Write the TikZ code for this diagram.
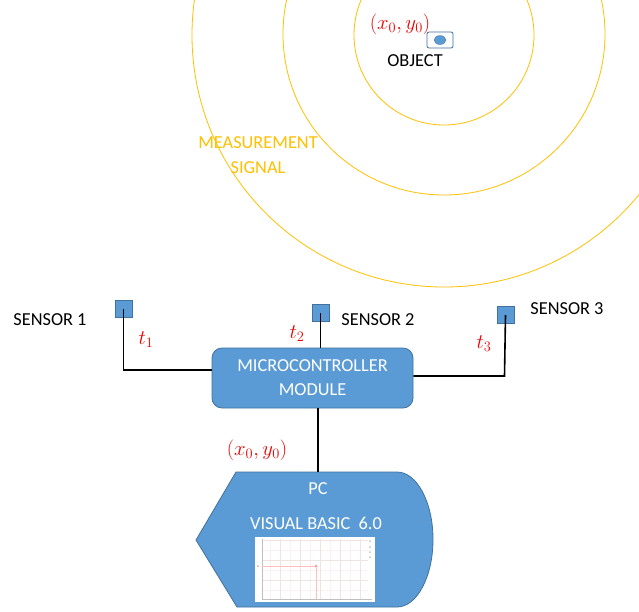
\documentclass[tikz,border=0pt]{standalone}
\usepackage{fontspec}
\setmainfont{Carlito}
\definecolor{boxblue}{HTML}{5B9BD5}
\definecolor{boxedge}{HTML}{41719C}
\definecolor{gold}{HTML}{FFC000}
\definecolor{mathred}{HTML}{F00000}
\definecolor{gridc}{HTML}{FAF2F2}
\definecolor{gridmaj}{HTML}{EEE4E4}
\begin{document}
\begin{tikzpicture}[x=1pt,y=-1pt,
  lbl/.style={font=\fontsize{18.3}{21}\selectfont, text=black, inner sep=0pt},
  redlbl/.style={font=\fontsize{22}{24}\selectfont, text=mathred, inner sep=0pt},
  sensorbox/.style={draw=boxedge, fill=boxblue, line width=0.6pt, minimum size=17pt, inner sep=0pt},
  wire/.style={line width=1.6pt, black},
  wave/.style={draw=gold, line width=0.8pt},
  mcubox/.style={draw=boxedge, fill=boxblue, line width=0.8pt, rounded corners=10pt,
    minimum width=201pt, minimum height=60pt, align=center, text=white,
    font=\fontsize{18.3}{24}\selectfont}]
\useasboundingbox (0,0) rectangle (639,611);
\fill[white] (0,0) rectangle (639,611);
% measurement signal circles
\begin{scope}
\clip (0,0) rectangle (639,611);
\draw[wave] (444,35) circle[radius=90pt];
\draw[wave] (444,34) circle[radius=161pt];
\draw[wave] (444,35) circle[radius=252pt];
\end{scope}
% object
\node[draw=boxedge, fill=white, rounded corners=2pt, line width=0.8pt, minimum width=26pt, minimum height=16pt, inner sep=0pt] (obj) at (440,40) {};
\fill[boxblue, draw=boxedge, line width=0.3pt] (obj.center) ellipse[x radius=6pt, y radius=4.5pt];
\node[redlbl] (objpos) at (400,24) {$(x_0,y_0)$};
\node[lbl] (objlbl) at (415,61) {OBJECT};
\node[font=\fontsize{18.3}{25}\selectfont, text=gold, align=center, inner sep=0pt] (meas) at (258,155) {MEASUREMENT\\SIGNAL};
% sensors
\node[sensorbox] (s1) at (123.5,308.5) {};
\node[sensorbox] (s2) at (320.5,313) {};
\node[sensorbox] (s3) at (505.5,315) {};
\node[lbl] (s1l) at (50,320) {SENSOR 1};
\node[lbl] (s2l) at (378,320) {SENSOR 2};
\node[lbl] (s3l) at (567,309) {SENSOR 3};
% microcontroller
\node[mcubox] (mcu) at (312.5,378) {MICROCONTROLLER\\MODULE};
\coordinate (c1) at (123.5,370);
\coordinate (c3) at (504.5,376);
\draw[wire] (s1.center) -- (c1) -- (c1 -| mcu.west);
\draw[wire] (s2.center) -- (s2 |- mcu.north);
\draw[wire] (s3.center) -- (c3) -- (c3 -| mcu.east);
\node[redlbl] (t1) at (146,340) {$t_1$};
\node[redlbl] (t2) at (297,334) {$t_2$};
\node[redlbl] (t3) at (484,344) {$t_3$};
% PC display shape
\draw[draw=boxedge, fill=boxblue, line width=0.8pt]
  (196,540) -- (236,472) -- (397,472) arc[start angle=90, end angle=-90, x radius=36pt, y radius=67.5pt]
  -- (237,607) -- cycle;
\coordinate (pctop) at (318,472);
\draw[wire] (mcu.south -| pctop) -- (pctop);
\node[redlbl] (pcpos) at (257,450) {$(x_0,y_0)$};
\node[font=\fontsize{18.3}{20}\selectfont, text=white, inner sep=0pt] (pcl) at (318,489) {PC};
\node[font=\fontsize{18.3}{20}\selectfont, text=white, inner sep=0pt] (vbl) at (316,523) {VISUAL BASIC\ \ 6.0};
% screenshot of the program
\fill[white] (255,537) rectangle (375,602);
\begin{scope}
\clip (262,539) rectangle (368,599);
\draw[gridc, line width=0.3pt] (252,529) grid[step=10pt] (380,605);
\draw[gridmaj, line width=0.4pt] (262,539) grid[step=20pt] (380,605);
\end{scope}
\draw[gray!50, line width=0.5pt] (262,539) -- (262,599) -- (372,599);
\draw[red!25, line width=0.6pt] (262,566) -- (316,566) -- (316,599);
\fill[red!40] (316,566) circle[radius=1.3pt];
\fill[red!40] (258,566) circle[radius=1pt];
\foreach \yy in {541,547,552,557} \fill[gray!50] (370,\yy) circle[radius=1pt];
\end{tikzpicture}
\end{document}
